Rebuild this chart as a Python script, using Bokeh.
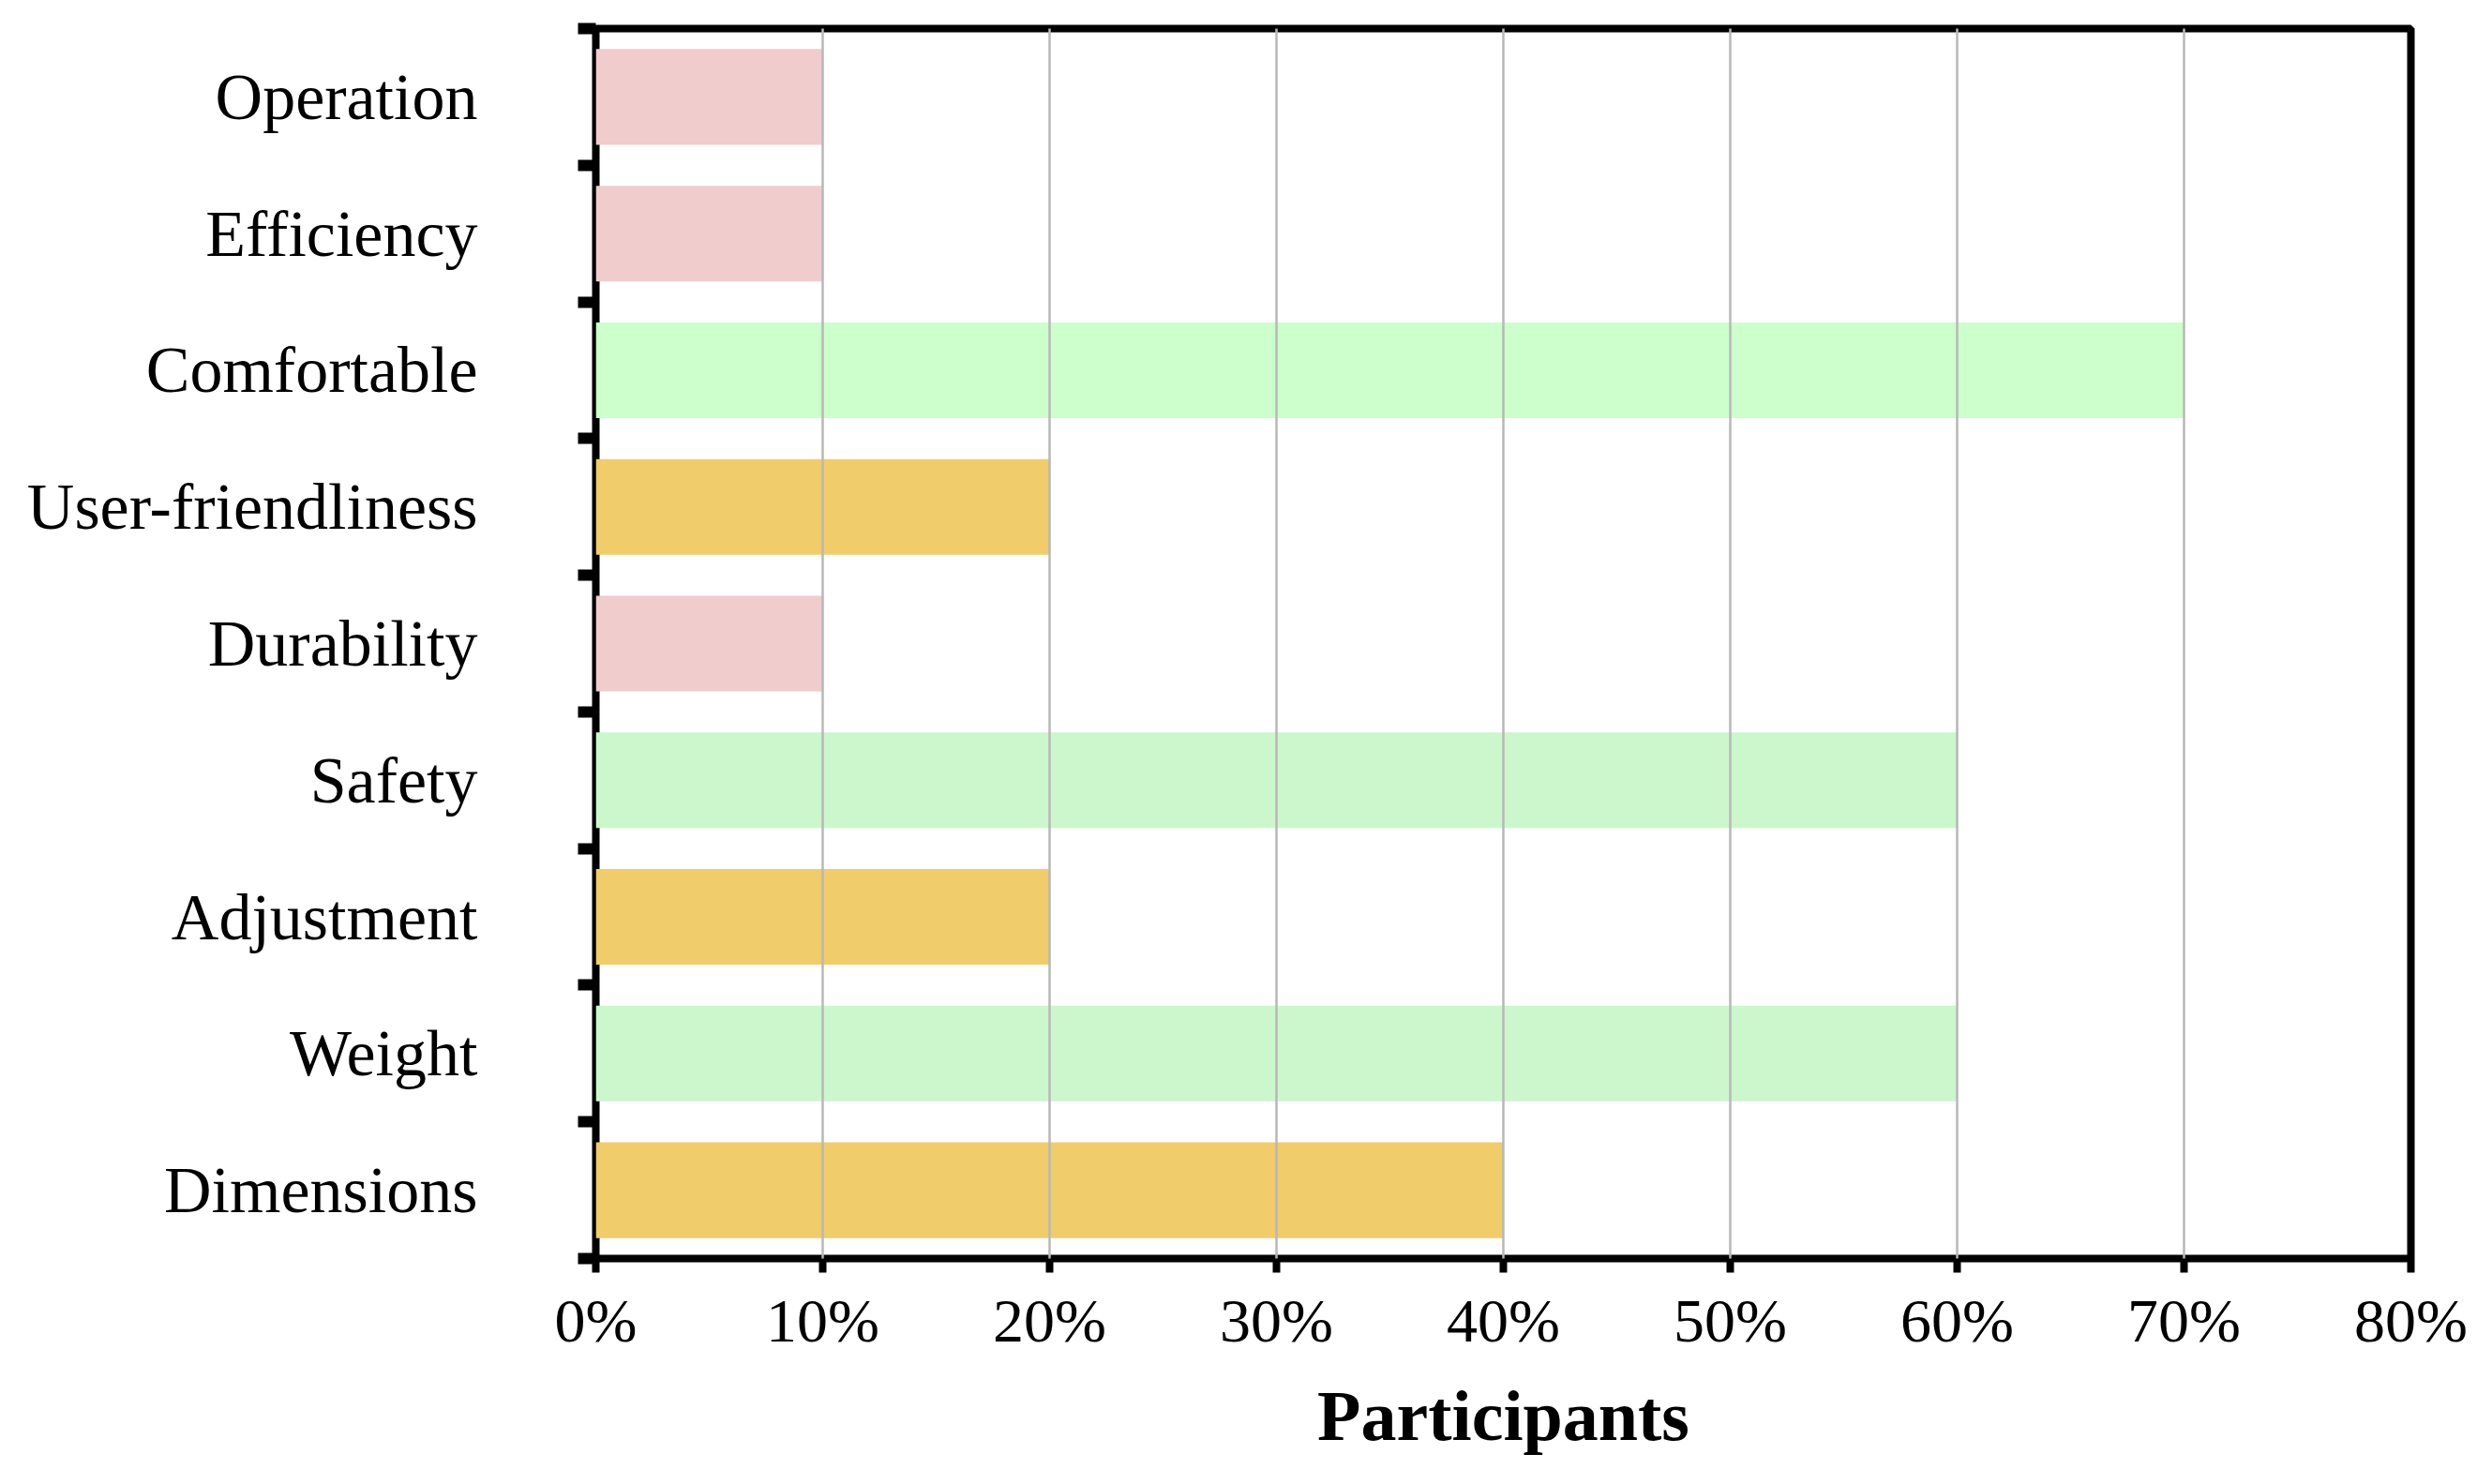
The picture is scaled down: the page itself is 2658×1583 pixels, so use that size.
from bokeh.plotting import figure
from bokeh.models import FixedTicker, PrintfTickFormatter, ColumnDataSource, Range1d
from bokeh.embed import file_html
from bokeh.resources import INLINE

# Data (top to bottom as shown)
categories = ["Operation", "Efficiency", "Comfortable", "User-friendliness",
              "Durability", "Safety", "Adjustment", "Weight", "Dimensions"]
values = [10, 10, 70, 20, 10, 60, 20, 60, 40]
colors = ["#F0CCCC", "#F0CCCC", "#CCFFCC", "#F0CC6B", "#F0CCCC",
          "#CCF7CC", "#F0CC6B", "#CCF7CC", "#F0CC6B"]
x_ticks = [0, 10, 20, 30, 40, 50, 60, 70, 80]

n = len(categories)
ypos = [n - 1 - i for i in range(n)]  # Operation on top
src = ColumnDataSource(dict(y=ypos, right=values, color=colors, cat=categories))

p = figure(width=2640, height=1566, output_backend="svg", toolbar_location=None,
           x_range=Range1d(0, 80), y_range=Range1d(-0.5, n - 0.5),
           min_border_left=635, min_border_top=30, min_border_right=69,
           min_border_bottom=224)
p.background_fill_color = "white"
p.border_fill_color = "white"
p.outline_line_color = "black"
p.outline_line_width = 8

p.hbar(y="y", left=0, right="right", height=0.70, fill_color="color",
       line_color=None, source=src)

# grid (drawn over bars)
p.ygrid.visible = False
p.xgrid.ticker = FixedTicker(ticks=x_ticks[1:-1])
p.xgrid.grid_line_color = "#B8B8B8"
p.xgrid.grid_line_width = 2.5
p.xgrid.level = "annotation"

# x axis
xa = p.xaxis[0]
xa.ticker = FixedTicker(ticks=x_ticks)
xa.formatter = PrintfTickFormatter(format="%d%%")
xa.axis_line_color = None
xa.major_tick_line_color = "black"
xa.major_tick_line_width = 8
xa.major_tick_out = 15
xa.major_tick_in = 0
xa.minor_tick_line_color = None
xa.major_label_text_font = "Liberation Serif"
xa.major_label_text_font_size = "66px"
xa.major_label_text_color = "black"
xa.major_label_standoff = 14
xa.axis_label = "Participants"
xa.axis_label_text_font = "Liberation Serif"
xa.axis_label_text_font_style = "bold"
xa.axis_label_text_font_size = "76px"
xa.axis_label_text_color = "black"
xa.axis_label_standoff = 20

# y axis: labels at centers, ticks at category boundaries (minor ticks)
ya = p.yaxis[0]
boundaries = [b - 0.5 for b in range(n + 1)]
ya.ticker = FixedTicker(ticks=ypos, minor_ticks=boundaries)
ya.major_label_overrides = {yv: c for yv, c in zip(ypos, categories)}
ya.axis_line_color = None
ya.major_tick_line_color = None
ya.major_tick_out = 0
ya.major_tick_in = 0
ya.minor_tick_line_color = "black"
ya.minor_tick_line_width = 12
ya.minor_tick_out = 19
ya.minor_tick_in = 0
ya.major_label_text_font = "Liberation Serif"
ya.major_label_text_font_size = "70px"
ya.major_label_text_color = "black"
ya.major_label_standoff = 107

open("out.html", "w").write(file_html(p, INLINE))
